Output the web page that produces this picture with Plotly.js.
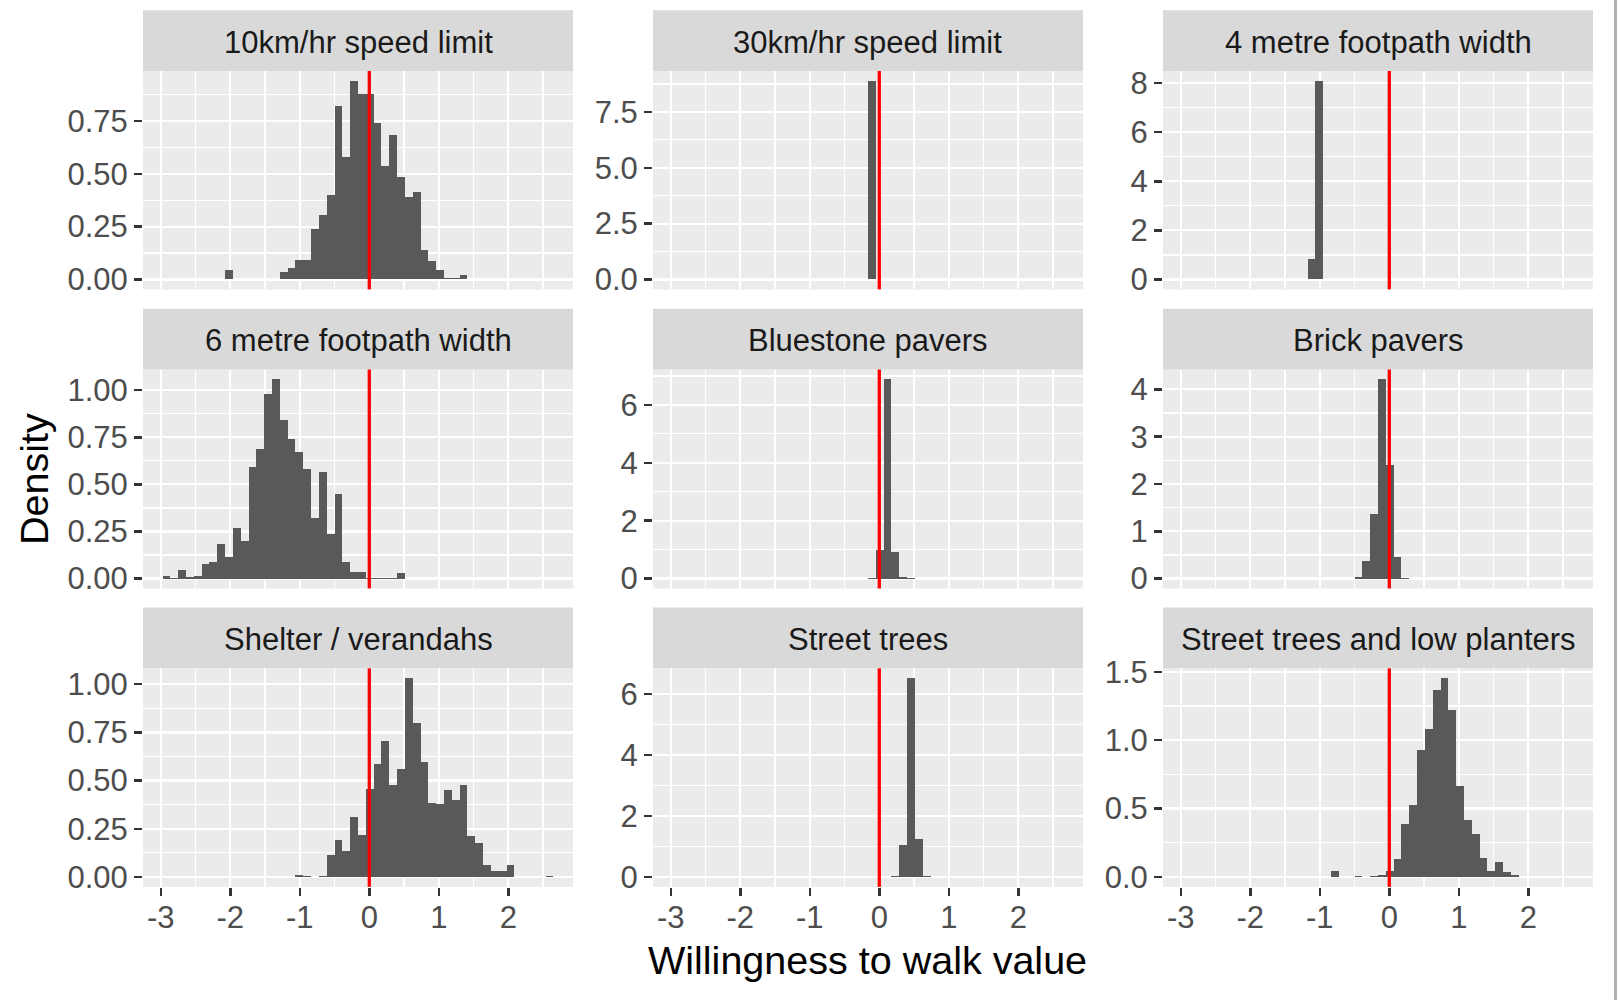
<!DOCTYPE html>
<html>
<head>
<meta charset="utf-8">
<script src="https://cdn.plot.ly/plotly-3.0.1.min.js"></script>
<style>html,body{margin:0;padding:0;background:#fff;}#chart{width:1620px;height:1000px;}</style>
</head>
<body>
<div id="chart"></div>
<script>
// ---------------- DATA ----------------
const facetTitles = [
  "10km/hr speed limit", "30km/hr speed limit", "4 metre footpath width",
  "6 metre footpath width", "Bluestone pavers", "Brick pavers",
  "Shelter / verandahs", "Street trees", "Street trees and low planters"
];

const binWidth = 0.1125;
const binCenters = [
  -2.9188, -2.8063, -2.6938, -2.5813, -2.4688, -2.3563, -2.2438, -2.1313, -2.0188, -1.9063,
  -1.7938, -1.6813, -1.5688, -1.4563, -1.3438, -1.2313, -1.1188, -1.0063, -0.8938, -0.7813,
  -0.6688, -0.5563, -0.4438, -0.3313, -0.2188, -0.1063, 0.0063, 0.1188, 0.2313, 0.3438,
  0.4563, 0.5688, 0.6813, 0.7938, 0.9063, 1.0188, 1.1313, 1.2438, 1.3563, 1.4688,
  1.5813, 1.6938, 1.8063, 1.9188, 2.0313, 2.1438, 2.2563, 2.3688, 2.4813, 2.5938
];

const density10kmSpeed = [
  0,0,0,0,0,0,0,0,0.043,0,
  0,0,0,0,0,0.035,0.054,0.090,0.090,0.241,
  0.304,0.399,0.822,0.581,0.939,0.875,0.878,0.741,0.537,0.683,
  0.483,0.391,0.412,0.139,0.086,0.043,0.008,0.006,0.019,0,
  0.003,0,0,0,0,0,0,0,0,0
];
const density30kmSpeed = [
  0,0,0,0,0,0,0,0,0,0,
  0,0,0,0,0,0,0,0,0,0,
  0,0,0,0,0,8.889,0,0,0,0,
  0,0,0,0,0,0,0,0,0,0,
  0,0,0,0,0,0,0,0,0,0
];
const density4mFootpath = [
  0,0,0,0,0,0,0,0,0,0,
  0,0,0,0,0,0,0.82,8.09,0,0,
  0,0,0,0,0,0,0,0,0,0,
  0,0,0,0,0,0,0,0,0,0,
  0,0,0,0,0,0,0,0,0,0
];
const density6mFootpath = [
  0.016,0.002,0.046,0.007,0.011,0.075,0.086,0.184,0.116,0.271,
  0.198,0.593,0.688,0.980,1.057,0.843,0.739,0.671,0.584,0.323,
  0.564,0.236,0.450,0.086,0.036,0.036,0.004,0.002,0.002,0.002,
  0.029,0,0,0,0,0,0,0,0,0,
  0,0,0,0,0,0,0,0,0,0
];
const densityBluestone = [
  0,0,0,0,0,0,0,0,0,0,
  0,0,0,0,0,0,0,0,0,0,
  0,0,0,0,0,0.01,0.99,6.88,0.93,0.07,
  0.01,0,0,0,0,0,0,0,0,0,
  0,0,0,0,0,0,0,0,0,0
];
const densityBrick = [
  0,0,0,0,0,0,0,0,0,0,
  0,0,0,0,0,0,0,0,0,0,
  0,0,0.03,0.37,1.37,4.21,2.41,0.46,0.01,0,
  0,0,0,0,0,0,0,0,0,0,
  0,0,0,0,0,0,0,0,0,0
];
const densityShelter = [
  0,0,0,0,0,0,0,0,0,0,
  0,0,0,0,0,0,0,0.012,0.005,0,
  0.003,0.115,0.193,0.137,0.310,0.217,0.457,0.584,0.706,0.475,
  0.558,1.031,0.797,0.598,0.386,0.381,0.452,0.397,0.478,0.212,
  0.176,0.061,0.033,0.033,0.061,0,0,0,0,0.005
];
const densityStreetTrees = [
  0,0,0,0,0,0,0,0,0,0,
  0,0,0,0,0,0,0,0,0,0,
  0,0,0,0,0,0,0,0,0.03,1.05,
  6.52,1.25,0.02,0,0,0,0,0,0,0,
  0,0,0,0,0,0,0,0,0,0
];
const densityTreesPlanters = [
  0,0,0,0,0,0,0,0,0,0,
  0,0,0,0,0,0,0,0,0,0.042,
  0,0,0.005,0,0.010,0.012,0.044,0.132,0.387,0.526,
  0.925,1.081,1.365,1.453,1.219,0.666,0.414,0.313,0.139,0.042,
  0.113,0.034,0.017,0,0,0,0,0,0,0
];

const facetDensities = [
  density10kmSpeed, density30kmSpeed, density4mFootpath,
  density6mFootpath, densityBluestone, densityBrick,
  densityShelter, densityStreetTrees, densityTreesPlanters
];

// y tick spacing per facet
const yTickSteps = [0.25, 2.5, 2, 0.25, 2, 1, 0.25, 2, 0.5];
const yTickFormats = [".2f", ".1f", "d", ".2f", "d", "d", ".2f", "d", ".1f"];

const xTickVals = [-3, -2, -1, 0, 1, 2];
const referenceLine = 0;
const xTitle = "Willingness to walk value";
const yTitle = "Density";

// ---------------- LAYOUT ----------------
const W = 1620, H = 1000;
const colX = [[143, 573], [653, 1083], [1163, 1593]];
const rowY = [[71, 289.4], [369.5, 588.5], [668.3, 886.9]];
const stripH = 60.7;
const FONT = "Liberation Sans, Arial, Helvetica, sans-serif";

const traces = [];
const layout = {
  width: W, height: H,
  margin: {l: 0, r: 0, t: 0, b: 0},
  paper_bgcolor: "#FFFFFF",
  plot_bgcolor: "#EBEBEB",
  showlegend: false,
  bargap: 0,
  font: {family: FONT, color: "#4D4D4D"},
  shapes: [],
  annotations: []
};

for (let i = 0; i < 9; i++) {
  const r = Math.floor(i / 3), c = i % 3;
  const n = i + 1;
  const xa = n === 1 ? "x" : "x" + n;
  const ya = n === 1 ? "y" : "y" + n;
  const dens = facetDensities[i];
  traces.push({
    type: "bar",
    x: binCenters,
    y: dens,
    width: binCenters.map(() => binWidth),
    xaxis: xa, yaxis: ya,
    marker: {color: "#595959", line: {width: 0}},
    hoverinfo: "x+y"
  });
  const M = Math.max(...dens);
  const bottomRow = r === 2;
  layout["xaxis" + (n === 1 ? "" : n)] = {
    domain: [colX[c][0] / W, colX[c][1] / W],
    anchor: ya,
    range: [-3.256, 2.931],
    tickmode: "array",
    tickvals: xTickVals,
    ticktext: xTickVals.map(String),
    showgrid: true, gridcolor: "#FFFFFF", gridwidth: 2.2,
    minor: {tickmode: "linear", tick0: 0.5, dtick: 1, showgrid: true, gridcolor: "#FFFFFF", gridwidth: 1.2, ticks: ""},
    zeroline: false, showline: false,
    ticks: bottomRow ? "outside" : "",
    ticklen: 8, tickwidth: 2.5, tickcolor: "#333333",
    showticklabels: bottomRow,
    ticklabelstandoff: -5,
    tickfont: {size: 31, color: "#4D4D4D", family: FONT},
    fixedrange: true
  };
  const step = yTickSteps[i];
  layout["yaxis" + (n === 1 ? "" : n)] = {
    domain: [1 - rowY[r][1] / H, 1 - rowY[r][0] / H],
    anchor: xa,
    range: [-0.05 * M, 1.05 * M],
    tickmode: "linear", tick0: 0, dtick: step,
    tickformat: yTickFormats[i],
    showgrid: true, gridcolor: "#FFFFFF", gridwidth: 2.2,
    minor: {tickmode: "linear", tick0: step / 2, dtick: step, showgrid: true, gridcolor: "#FFFFFF", gridwidth: 1.2, ticks: ""},
    zeroline: false, showline: false,
    ticks: "outside", ticklen: 8, tickwidth: 2.5, tickcolor: "#333333",
    tickfont: {size: 31, color: "#4D4D4D", family: FONT},
    fixedrange: true
  };
  // reference line
  layout.shapes.push({
    type: "line", layer: "above",
    xref: xa, yref: ya + " domain",
    x0: referenceLine, x1: referenceLine, y0: 0, y1: 1,
    line: {color: "#FF0000", width: 3.3}
  });
  // strip
  layout.shapes.push({
    type: "rect", layer: "below",
    xref: "paper", yref: "paper",
    x0: colX[c][0] / W, x1: colX[c][1] / W,
    y0: 1 - rowY[r][0] / H, y1: 1 - (rowY[r][0] - stripH) / H,
    fillcolor: "#D9D9D9", line: {width: 0}
  });
  layout.annotations.push({
    xref: "paper", yref: "paper",
    x: (colX[c][0] + colX[c][1]) / 2 / W,
    y: 1 - (rowY[r][0] - stripH / 2 + 1.5) / H,
    xanchor: "center", yanchor: "middle",
    text: facetTitles[i], showarrow: false,
    font: {size: 31, color: "#1A1A1A", family: FONT}
  });
}

// axis titles
layout.annotations.push({
  xref: "paper", yref: "paper",
  x: (colX[0][0] + colX[2][1]) / 2 / W, y: 1 - 960 / H,
  xanchor: "center", yanchor: "middle",
  text: xTitle, showarrow: false,
  font: {size: 39.5, color: "#000000", family: FONT}
});
layout.annotations.push({
  xref: "paper", yref: "paper",
  x: 34 / W, y: 1 - 479 / H,
  xanchor: "center", yanchor: "middle", textangle: -90,
  text: yTitle, showarrow: false,
  font: {size: 39.5, color: "#000000", family: FONT}
});
// image right border shadow
layout.shapes.push({
  type: "line", layer: "above", xref: "paper", yref: "paper",
  x0: 1615.5 / W, x1: 1615.5 / W, y0: 0, y1: 1,
  line: {color: "#B0B0B0", width: 3}
});

Plotly.newPlot("chart", traces, layout, {displayModeBar: false, staticPlot: true});
</script>
</body>
</html>
